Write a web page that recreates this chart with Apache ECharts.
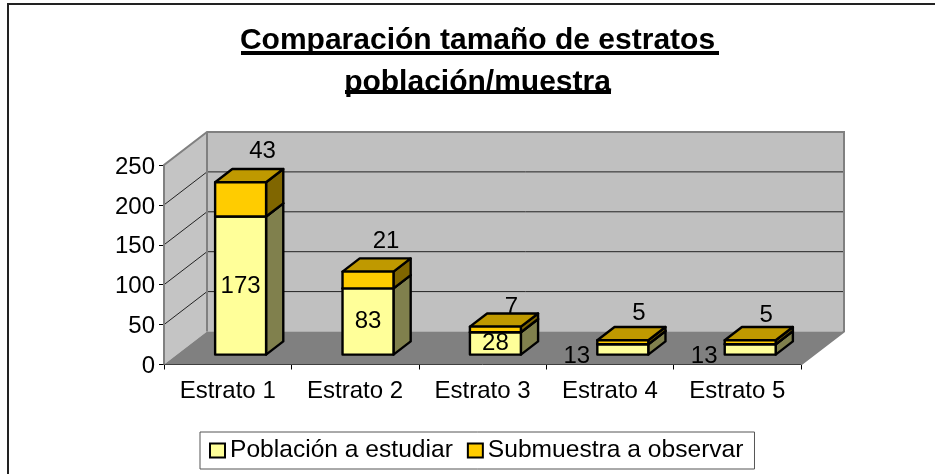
<!DOCTYPE html>
<html><head><meta charset="utf-8">
<style>html,body{margin:0;padding:0;background:#fff}#c{width:935px;height:474px}</style>
<script src="https://cdn.jsdelivr.net/npm/echarts@6/dist/echarts.min.js"></script>
</head><body><div id="c"></div>
<script>
const categories = ['Estrato 1','Estrato 2','Estrato 3','Estrato 4','Estrato 5'];
const poblacion = [173,83,28,13,13];
const submuestra = [43,21,7,5,5];
const yTicks = [0,50,100,150,200,250];
const seriesNames = ['Población a estudiar','Submuestra a observar'];

// Oblique projection used for the fake 3-D frame
const DX = 43, DY = -33;
const BAR_FRONT = 0.3, BAR_DEPTH = 0.4, BAR_WIDTH = 0.4;
// Label nudges (relative to the bar's front face), per category
const upperNudge = [[22,-30.5],[18,-30.5],[16,-19],[16,-27],[16,-25]];
const lowerNudge = [[0,1],[0,0],[0,0],[-46,7],[-46,7]];
const FONT = '"Liberation Sans", Arial, sans-serif';
const LABEL_SIZE = 24;

function poly(points, fill, lw, stroke){
  return {type:'polygon', shape:{points}, style:{fill, stroke:stroke||'#000', lineWidth:lw==null?2.4:lw, lineJoin:'round'}};
}
function renderBar(colors, nudges, baseOf){
  return function(params, api){
    const i = api.value(0), lo = baseOf(i), hi = lo + api.value(1);
    const band = api.size([1,0])[0], w = band*BAR_WIDTH;
    const c0 = api.coord([i, lo]), c1 = api.coord([i, hi]);
    const ox = DX*BAR_FRONT, oy = DY*BAR_FRONT, bx = DX*BAR_DEPTH, by = DY*BAR_DEPTH;
    const l = c0[0]-w/2+ox, r = c0[0]+w/2+ox, b = c0[1]+oy, t = c1[1]+oy;
    const n = nudges[i];
    return {type:'group', children:[
      poly([[r,b],[r+bx,b+by],[r+bx,t+by],[r,t]], colors.side),
      poly([[l,t],[r,t],[r+bx,t+by],[l+bx,t+by]], colors.top),
      poly([[l,b],[r,b],[r,t],[l,t]], colors.front),
      {type:'text', z2:50, style:{text:String(api.value(1)), x:(l+r)/2+n[0], y:(n[0]>0&&n[1]<-5 ? t : (t+b)/2)+n[1],
        align:'center', verticalAlign:'middle', fill:'#000', font:LABEL_SIZE+'px '+FONT}}
    ]};
  };
}
function renderFrame(params, api){
  const v = api.value(0);
  const band = api.size([1,0])[0];
  const a = api.coord([0, v]);
  const L = a[0]-band/2, R = api.coord([categories.length-1, v])[0]+band/2;
  const y0 = api.coord([0,0])[1], yT = api.coord([0,250])[1];
  const kids = [];
  if(params.dataIndex === 0){
    kids.push(poly([[L,y0],[L,yT],[L+DX,yT+DY],[L+DX,y0+DY]], '#c4c4c4', 0));
    kids.push(poly([[L+DX,yT+DY],[R+DX,yT+DY],[R+DX,y0+DY],[L+DX,y0+DY]], '#c0c0c0', 0));
    kids.push(poly([[L,y0],[L+DX,y0+DY],[R+DX,y0+DY],[R,y0]], '#808080', 0));
  }
  if(v>0 && v<250){
    kids.push({type:'polyline', shape:{points:[[L,a[1]],[L+DX,a[1]+DY],[R+DX,a[1]+DY]]}, style:{fill:null, stroke:'#222', lineWidth:1}});
  }
  if(v===250){
    kids.push({type:'polyline', shape:{points:[[L,y0],[L,yT],[L+DX,yT+DY],[R+DX,yT+DY],[R+DX,y0+DY],[R,y0]]}, style:{fill:null, stroke:'#808080', lineWidth:2}});
    kids.push({type:'line', shape:{x1:L+DX,y1:yT+DY,x2:L+DX,y2:y0+DY}, style:{stroke:'#808080', lineWidth:2}});
  }
  return {type:'group', children:kids};
}

const chart = echarts.init(document.getElementById('c'), null, {renderer:'canvas', width:935, height:474});
chart.setOption({
  animation:false,
  backgroundColor:'#fff',
  title:{text:'Comparación tamaño de estratos\npoblación/muestra', left:472.5, top:15, textAlign:'center',
    textStyle:{fontFamily:FONT, fontSize:30, fontWeight:'bold', color:'#000', lineHeight:41.5}},
  grid:{left:164, top:165, width:637, height:199.5, containLabel:false},
  xAxis:{type:'category', data:categories, boundaryGap:true,
    axisLine:{onZero:false, lineStyle:{color:'#000', width:1}},
    axisTick:{show:true, alignWithLabel:false, length:5, lineStyle:{color:'#000'}},
    axisLabel:{interval:0, margin:15, color:'#000', fontFamily:FONT, fontSize:LABEL_SIZE},
    splitLine:{show:false}},
  yAxis:{type:'value', min:0, max:250, interval:50,
    axisLine:{show:true, lineStyle:{color:'#000', width:1}},
    axisTick:{show:true, length:5, lineStyle:{color:'#000'}},
    axisLabel:{margin:9, color:'#000', fontFamily:FONT, fontSize:LABEL_SIZE, verticalAlign:'top', lineHeight:4},
    splitLine:{show:false}},
  legend:{left:200, top:432, padding:[6,11,6,9], itemGap:14, itemWidth:15, itemHeight:14,
    backgroundColor:'#fff', borderColor:'#555', borderWidth:1, borderRadius:0,
    textStyle:{fontFamily:FONT, fontSize:24.6, color:'#000', padding:[0,0,0,0]},
    data:[
      {name:seriesNames[0], icon:'rect', itemStyle:{color:'#ffff99', borderColor:'#000', borderWidth:2}},
      {name:seriesNames[1], icon:'rect', itemStyle:{color:'#ffcc00', borderColor:'#000', borderWidth:2}}
    ]},
  series:[
    {type:'custom', name:'marco', silent:true, clip:false, z:1, coordinateSystem:'cartesian2d',
      data:yTicks.map(v=>[0,v]), encode:{x:0,y:1}, renderItem:(p,api)=>renderFrame(p,{value:()=>api.value(1),size:api.size,coord:api.coord})},
    {type:'custom', name:seriesNames[0], clip:false, z:3, coordinateSystem:'cartesian2d',
      itemStyle:{color:'#ffff99'},
      data:categories.map((c,i)=>[i,poblacion[i]]), encode:{x:0,y:1},
      renderItem:renderBar({front:'#ffff99',side:'#80804d',top:'#bfbf73'}, lowerNudge, ()=>0)},
    {type:'custom', name:seriesNames[1], clip:false, z:4, coordinateSystem:'cartesian2d',
      itemStyle:{color:'#ffcc00'},
      data:categories.map((c,i)=>[i,submuestra[i]]), encode:{x:0,y:1},
      renderItem:renderBar({front:'#ffcc00',side:'#806600',top:'#bf9900'}, upperNudge, i=>poblacion[i])}
  ],
  graphic:[
    {type:'rect', z:100, silent:true, shape:{x:8,y:4,width:1000,height:600}, style:{fill:null, stroke:'#222', lineWidth:2}},
    {type:'rect', z:100, silent:true, shape:{x:241,y:51,width:478,height:4}, style:{fill:'#000'}},
    {type:'rect', z:100, silent:true, shape:{x:345,y:90,width:266,height:4}, style:{fill:'#000'}}
  ]
});
</script></body></html>
